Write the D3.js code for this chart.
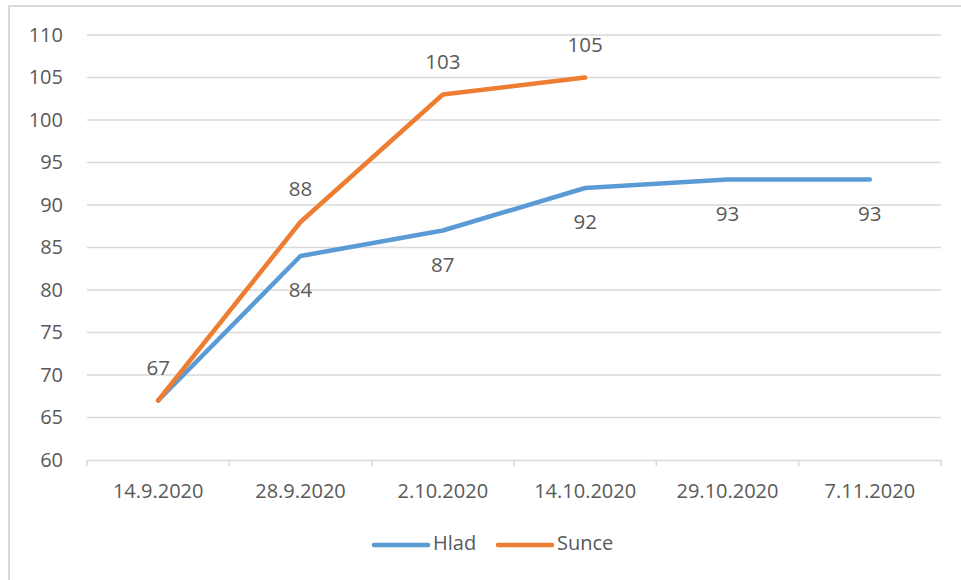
<!DOCTYPE html>
<html>
<head>
  <meta charset="UTF-8">
  <title>Hlad / Sunce</title>
  <style>
    body { margin: 0; background: #fff; }
    text { font-family: "Open Sans", "Noto Sans", sans-serif; fill: #595959; }
  </style>
</head>
<body>
  <script src="https://cdn.jsdelivr.net/npm/d3@7"></script>
  <script>
    const categories = ["14.9.2020", "28.9.2020", "2.10.2020", "14.10.2020", "29.10.2020", "7.11.2020"];
    const hlad = [67, 84, 87, 92, 93, 93];
    const sunce = [67, 88, 103, 105];
    const yTicks = [60, 65, 70, 75, 80, 85, 90, 95, 100, 105, 110];

    const width = 961;
    const height = 580;
    const svg = d3.select("body").append("svg").attr("width", width).attr("height", height);

    // chart frame
    svg.append("rect")
      .attr("x", 9).attr("y", 6)
      .attr("width", 980).attr("height", 600)
      .attr("fill", "none").attr("stroke", "#d9d9d9").attr("stroke-width", 2);

    const plotLeft = 87, plotRight = 941, plotTop = 35, plotBottom = 460;

    const xScale = d3.scaleBand().domain(categories).range([plotLeft, plotRight]);
    const yScale = d3.scaleLinear().domain([60, 110]).range([plotBottom, plotTop]);

    // gridlines
    svg.append("g")
      .selectAll("line")
      .data(yTicks.slice(1))
      .enter()
      .append("line")
      .attr("x1", plotLeft).attr("x2", plotRight)
      .attr("y1", d => yScale(d)).attr("y2", d => yScale(d))
      .attr("stroke", "#d9d9d9").attr("stroke-width", 1.5);

    // y axis labels
    const axisY = d3.axisLeft(yScale).tickValues(yTicks).tickSize(0).tickPadding(24);
    const gy = svg.append("g").attr("transform", "translate(" + plotLeft + ",0)").call(axisY);
    gy.select(".domain").remove();
    gy.selectAll("text").style("font-size", "20px").attr("fill", "#595959");

    // x axis
    const axisX = d3.axisBottom(xScale).tickSize(0).tickPadding(24);
    const gx = svg.append("g").attr("transform", "translate(0," + plotBottom + ")").call(axisX);
    gx.select(".domain").attr("stroke", "#d9d9d9").attr("stroke-width", 1.5);
    gx.selectAll("text").style("font-size", "20px").attr("fill", "#595959");
    const bounds = categories.map(c => xScale(c)).concat([plotRight]);
    gx.selectAll(".sep")
      .data(bounds)
      .enter()
      .append("line")
      .attr("x1", d => d).attr("x2", d => d)
      .attr("y1", 0).attr("y2", 6)
      .attr("stroke", "#d9d9d9").attr("stroke-width", 1.5);

    const cx = i => xScale(categories[i]) + xScale.bandwidth() / 2;
    const line = d3.line().x((d, i) => cx(i)).y(d => yScale(d));

    const series = [
      { name: "Hlad", values: hlad, color: "#5b9bd5", dy: 36 },
      { name: "Sunce", values: sunce, color: "#ed7d31", dy: -31 }
    ];

    series.forEach(s => {
      svg.append("path")
        .datum(s.values)
        .attr("d", line)
        .attr("fill", "none")
        .attr("stroke", s.color)
        .attr("stroke-width", 4.5)
        .attr("stroke-linecap", "round")
        .attr("stroke-linejoin", "round");
    });

    // data labels (first Hlad label hidden behind Sunce's in original)
    series.forEach(s => {
      svg.append("g")
        .selectAll("text")
        .data(s.values.map((v, i) => ({ v, i })).filter(d => !(s.name === "Hlad" && d.i === 0)))
        .enter()
        .append("text")
        .attr("x", d => cx(d.i))
        .attr("y", d => yScale(d.v) + s.dy)
        .attr("text-anchor", "middle")
        .attr("dominant-baseline", "middle")
        .style("font-size", "20.5px")
        .text(d => d.v);
    });

    // legend
    const legend = svg.append("g").attr("transform", "translate(0,545)");
    const legendItems = [
      { name: "Hlad", color: "#5b9bd5", x: 374 },
      { name: "Sunce", color: "#ed7d31", x: 498 }
    ];
    legendItems.forEach(d => {
      legend.append("line")
        .attr("x1", d.x).attr("x2", d.x + 54)
        .attr("y1", 0).attr("y2", 0)
        .attr("stroke", d.color).attr("stroke-width", 4.5)
        .attr("stroke-linecap", "round");
      legend.append("text")
        .attr("x", d.x + 59).attr("y", 0)
        .attr("dominant-baseline", "middle")
        .style("font-size", "20px")
        .text(d.name);
    });
  </script>
</body>
</html>
